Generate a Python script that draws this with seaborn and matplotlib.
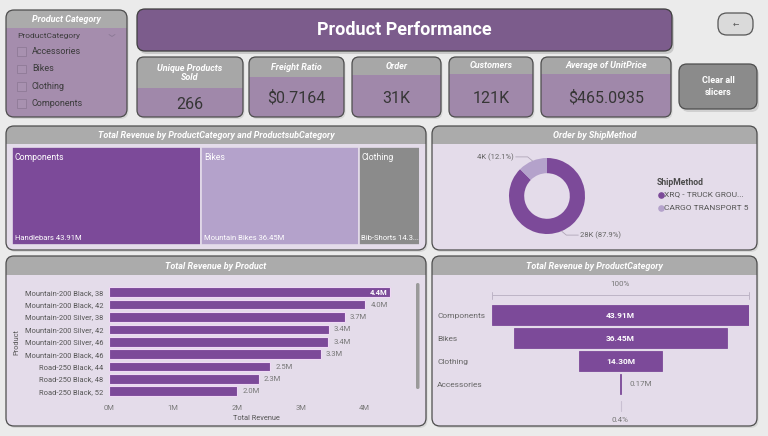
import matplotlib
matplotlib.use("Agg")
import matplotlib.pyplot as plt
import seaborn as sns
import pandas as pd
import numpy as np
from matplotlib.patches import FancyBboxPatch, Rectangle

sns.set_theme(style="white")
plt.rcParams['font.family'] = ['Roboto', 'DejaVu Sans']

# ---------------- data ----------------
categories = ["Components", "Bikes", "Clothing", "Accessories"]
category_revenue_m = [43.91, 36.45, 14.30, 0.17]
treemap_subcats = ["Handlebars", "Mountain Bikes", "Bib-Shorts", ""]
ship_methods = ["XRQ - TRUCK GROU...", "CARGO TRANSPORT 5"]
ship_orders_k = [28, 4]
ship_pct = [87.9, 12.1]
products = ["Mountain-200 Black, 38", "Mountain-200 Black, 42", "Mountain-200 Silver, 38",
            "Mountain-200 Silver, 42", "Mountain-200 Silver, 46", "Mountain-200 Black, 46",
            "Road-250 Black, 44", "Road-250 Black, 48", "Road-250 Black, 52"]
product_revenue_m = [4.40, 4.01, 3.69, 3.44, 3.43, 3.31, 2.52, 2.34, 2.01]
revenue_ticks = [0, 1, 2, 3, 4]
kpi_titles = ["Unique Products\nSold", "Freight Ratio", "Order", "Customers", "Average of UnitPrice"]
kpi_values = ["266", "$0.7164", "31K", "121K", "$465.0935"]
slicer_items = ["Accessories", "Bikes", "Clothing", "Components"]

# ---------------- colours ----------------
PURPLE = "#7c4a99"
LIGHT = "#b4a2cb"
GRAY = "#8b8b8b"
HEAD = "#ababab"
BODY = "#e4dcea"
CARD = "#a088aa"
FIGBG = "#ebebeb"

W, H = 768, 436
fig = plt.figure(figsize=(7.68, 4.36), dpi=100)
fig.patch.set_facecolor(FIGBG)
bg = fig.add_axes([0, 0, 1, 1])
bg.set_xlim(0, W)
bg.set_ylim(H, 0)
bg.axis("off")


def px_axes(x, y, w, h):
    return fig.add_axes([x / W, 1 - (y + h) / H, w / W, h / H])


def rbox(x, y, w, h, fc, ec="none", r=8, lw=0.9, z=1):
    p = FancyBboxPatch((x + r, y + r), w - 2 * r, h - 2 * r,
                       boxstyle=f"round,pad={r}", fc=fc, ec=ec, lw=lw, zorder=z)
    bg.add_patch(p)
    return p


def panel(x, y, w, h, hh, title, body=BODY, head=HEAD, r=8, fs=6.5, shadow=True):
    if shadow:
        rbox(x + 1.5, y + 2, w, h, "#d6d6d6", r=r, z=0.5)
    rbox(x, y, w, h, body, r=r, z=1)
    p2 = rbox(x, y, w, h, head, r=r, z=1.1)
    clip = Rectangle((x - 3, y - 3), w + 6, hh + 3, transform=bg.transData)
    p2.set_clip_path(clip)
    rbox(x, y, w, h, "none", ec="#4d4d4d", r=r, lw=0.9, z=1.2)
    bg.text(x + w / 2, y + hh / 2 + 0.5, title, ha="center", va="center", color="white",
            fontsize=fs, fontweight="bold", fontstyle="italic", zorder=2, linespacing=0.9)


# ---------------- slicer ----------------
panel(6, 10, 121, 107, 18, "Product Category", body="#a58dad", fs=6.5)
bg.text(17, 36, "ProductCategory", fontsize=6, color="#3d3d3d", va="center", zorder=2)
bg.plot([109, 112, 115], [34.5, 36.5, 34.5], color="#8a7894", lw=0.6, zorder=2)
for i, item in enumerate(slicer_items):
    yy = 51.5 + i * 17.3
    bg.add_patch(Rectangle((17, yy - 4), 8.5, 8.5, fc="#a891b0", ec="#8f7a97", lw=0.6, zorder=2))
    bg.text(32, yy, item, fontsize=6.5, color="#3a3a3a", va="center", zorder=2)

# ---------------- title banner ----------------
rbox(139, 12, 535, 42, "#c9c9c9", r=8, z=0.5)
rbox(137, 9, 535, 42, "#7c5c8c", ec="#3e3e3e", r=8, z=1)
bg.text(404, 30, "Product Performance", ha="center", va="center", color="white",
        fontsize=13, fontweight="bold", zorder=2)

# back button
rbox(718, 13, 35, 22, "#dadada", ec="#555555", r=9, z=1)
bg.text(735.5, 24, "\u2190", ha="center", va="center", fontsize=5.5, color="#555555",
        family=["DejaVu Sans"], zorder=2)

# ---------------- KPI cards ----------------
cards = [(137, 106, 31, 104), (249, 95, 20, 98), (352, 89, 18, 98), (449, 84, 17, 98), (541, 130, 17, 98)]
for (cx, cw, hh, vy), t, v in zip(cards, kpi_titles, kpi_values):
    panel(cx, 57, cw, 60, hh, t, body=CARD, head="#a7a7a7", r=7, fs=6.5)
    bg.text(cx + cw / 2, vy, v, ha="center", va="center", fontsize=11.5, color="#363636", zorder=2)

rbox(681, 67, 78, 45, "#d0d0d0", r=8, z=0.5)
rbox(679, 64, 78, 45, "#8b8b8b", ec="#4d4d4d", r=8, z=1)
bg.text(718, 86.5, "Clear all\nslicers", ha="center", va="center", fontsize=6.5, color="white",
        fontweight="bold", linespacing=1.5, zorder=2)

# ---------------- panels ----------------
panel(6, 126, 420, 124, 18, "Total Revenue by ProductCategory and ProductsubCategory")
panel(432, 126, 325, 124, 18, "Order by ShipMethod")
panel(6, 256, 420, 170, 19, "Total Revenue by Product")
panel(432, 256, 325, 170, 19, "Total Revenue by ProductCategory")

# ---------------- treemap (single row) ----------------
tm = px_axes(12, 147.5, 409, 97)
tm_colors = [PURPLE, LIGHT, GRAY, "#c9b8d8"]
lefts = np.concatenate([[0], np.cumsum(category_revenue_m)[:-1]])
tm.barh([0] * len(categories), category_revenue_m, left=lefts, height=1,
        color=tm_colors, edgecolor=BODY, linewidth=1.2)
tm.set_xlim(0, sum(category_revenue_m))
tm.set_ylim(0.5, -0.5)
tm.axis("off")
tm.patch.set_alpha(0)
for c, s, v, l in zip(categories[:3], treemap_subcats[:3], category_revenue_m[:3], lefts[:3]):
    tm.text(l + 0.6, -0.44, c, ha="left", va="top", color="white", fontsize=6.2)
    lab = f"{s} {v:.2f}M"
    if c == "Clothing":
        lab = f"{s} {v:.1f}..."
    tm.text(l + 0.6, 0.46, lab, ha="left", va="bottom", color="white", fontsize=5.5)

# ---------------- donut ----------------
dn = px_axes(497, 146, 100, 100)
wedges, _ = dn.pie(ship_orders_k, colors=[PURPLE, LIGHT], startangle=90, counterclock=False,
                   radius=0.95, wedgeprops=dict(width=0.38, edgecolor="none"))
dn.set_xlim(-1.25, 1.25)
dn.set_ylim(-1.25, 1.25)
dn.patch.set_alpha(0)
for wdg, k, pc in zip(wedges, ship_orders_k, ship_pct):
    ang = np.deg2rad((wdg.theta1 + wdg.theta2) / 2)
    px, py = 0.95 * np.cos(ang), 0.95 * np.sin(ang)
    side = -1 if px < 0 else 1
    ex, ey = px + 0.12 * side, py + 0.1 * np.sign(py)
    tx = ex + 0.3 * side
    dn.plot([px, ex, tx], [py, ey, ey], color="#b0a6b8", lw=0.6, clip_on=False)
    dn.text(tx + 0.05 * side, ey, f"{k}K ({pc}%)", ha="left" if side > 0 else "right",
            va="center", fontsize=5.5, color="#666666", clip_on=False)

bg.text(657, 182, "ShipMethod", fontsize=6.2, color="#4a4a4a", fontweight="bold", va="center", zorder=2)
for i, (m, col) in enumerate(zip(ship_methods, [PURPLE, LIGHT])):
    yy = 194.5 + i * 13.5
    bg.scatter([661], [yy], s=14, color=col, zorder=2)
    bg.text(664.5, yy, m, fontsize=6, color="#555555", va="center", zorder=2)

# ---------------- product bar chart ----------------
df = pd.DataFrame({"Product": products, "Revenue": product_revenue_m})
bx = px_axes(109, 286.1, 294, 111.4)
sns.barplot(data=df, x="Revenue", y="Product", ax=bx, color=PURPLE, saturation=1,
            width=0.78, edgecolor="#efd9f5", linewidth=0.8)
bx.set_xlim(0, 4.6)
bx.set_ylim(len(products) - 0.5, -0.5)
bx.patch.set_alpha(0)
for s in bx.spines.values():
    s.set_visible(False)
bx.set_xticks(revenue_ticks)
bx.set_xticklabels([f"{t}M" for t in revenue_ticks])
bx.tick_params(axis="x", length=0, pad=5.5, labelsize=5.5, labelcolor="#7a7a7a")
bx.tick_params(axis="y", length=0, pad=4, labelsize=5.4, labelcolor="#555555")
bx.set_xlabel("Total Revenue", fontsize=5.3, color="#555555", labelpad=3)
bx.set_ylabel("Product", fontsize=5.3, color="#555555")
bx.yaxis.set_label_coords(-0.30, 0.5)
vmax = max(product_revenue_m)
for i, v in enumerate(product_revenue_m):
    if v == vmax:
        bx.text(v - 0.05, i, f"{v:.1f}M", ha="right", va="center", fontsize=5.5,
                color="white", fontweight="bold")
    else:
        bx.text(v + 0.08, i, f"{v:.1f}M", ha="left", va="center", fontsize=5.5, color="#777777")
rbox(416, 283, 3.5, 106, "#9a9a9a", r=1.7, z=2)

# ---------------- funnel ----------------
fn = px_axes(492, 303.5, 257, 92)
half = max(category_revenue_m) / 2
fn_left = [-v / 2 for v in category_revenue_m]
fn.barh(range(len(categories)), category_revenue_m, left=fn_left, height=0.9,
        color=PURPLE, edgecolor=PURPLE, linewidth=0.6)
fn.set_xlim(-half, half)
fn.set_ylim(len(categories) - 0.5, -0.5)
fn.patch.set_alpha(0)
for s in fn.spines.values():
    s.set_visible(False)
fn.set_xticks([])
fn.set_yticks(range(len(categories)))
fn.set_yticklabels(categories)
fn.tick_params(axis="y", length=0, pad=39.6, labelsize=6, labelcolor="#666666")
for lab in fn.get_yticklabels():
    lab.set_horizontalalignment("left")
for i, v in enumerate(category_revenue_m):
    if v > 5:
        fn.text(0, i, f"{v:.2f}M", ha="center", va="center", fontsize=6, color="white", fontweight="bold")
    else:
        fn.text(v / 2 + 1.5, i, f"{v:.2f}M", ha="left", va="center", fontsize=5.8, color="#777777")
# top 100% bracket
ytop = -0.85
fn.plot([-half, half], [ytop, ytop], color="#bdb4c6", lw=0.7, clip_on=False)
for xe in (-half, half):
    fn.plot([xe, xe], [ytop - 0.17, ytop + 0.17], color="#bdb4c6", lw=0.7, clip_on=False)
fn.text(0, ytop - 0.5, f"{100:.0f}%", ha="center", va="center", fontsize=5.8, color="#777777")
# bottom conversion
pct_last = category_revenue_m[-1] / category_revenue_m[0] * 100
fn.plot([0, 0], [3.72, 4.17], color="#c9c0d2", lw=0.8, clip_on=False)
fn.text(0, 4.55, f"{pct_last:.1f}%", ha="center", va="center", fontsize=5.8, color="#777777")

fig.savefig("out.png", dpi=100, facecolor=FIGBG)
